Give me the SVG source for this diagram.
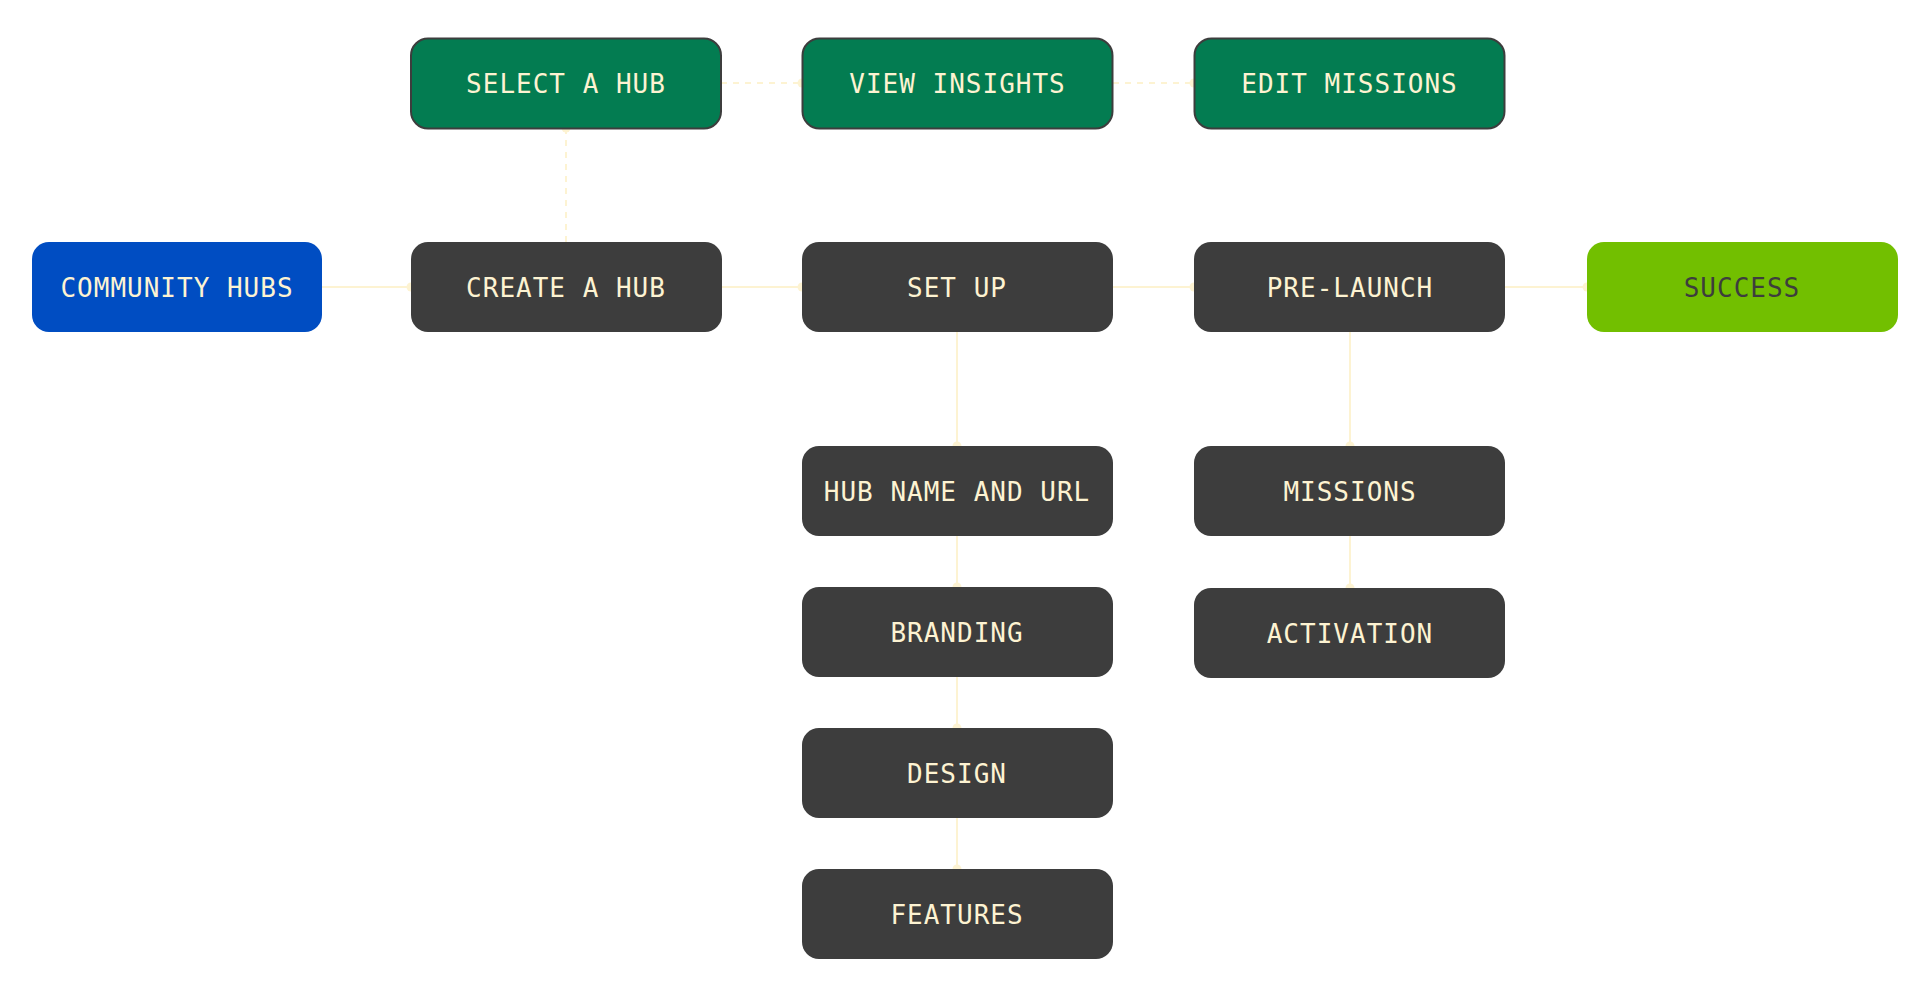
<svg xmlns="http://www.w3.org/2000/svg" width="1930" height="998" viewBox="0 0 1930 998">
<defs>
<marker id="dot" viewBox="-5 -5 10 10" refX="0" refY="0" markerWidth="10" markerHeight="10" markerUnits="userSpaceOnUse">
<circle cx="0" cy="0" r="4.5" fill="#fdf3d2"/>
</marker>
<style>
.c{stroke:#fdf3d2;stroke-width:2;fill:none;marker-end:url(#dot)}
.d{stroke-dasharray:6 6}
.n{fill:#3d3d3d}
.g{fill:#037c51;stroke:#3d3d3d;stroke-width:2}
.b{fill:#004dc2}
.s{fill:#72bf00}
text{font-family:"DejaVu Sans Mono","Liberation Mono",monospace;font-size:26px;letter-spacing:1px;fill:#fdf3d2;text-anchor:middle}
.ts{fill:#3d3d3d}
</style>
</defs>
<rect width="1930" height="998" fill="#ffffff"/>
<g id="connectors">
<line class="c d" x1="721" y1="83" x2="802" y2="83"/>
<line class="c d" x1="1113" y1="83" x2="1194" y2="83"/>
<line class="c d" x1="566" y1="242" x2="566" y2="128"/>
<line class="c" x1="322" y1="287" x2="411" y2="287"/>
<line class="c" x1="721" y1="287" x2="802" y2="287"/>
<line class="c" x1="1113" y1="287" x2="1194" y2="287"/>
<line class="c" x1="1505" y1="287" x2="1587" y2="287"/>
<line class="c" x1="957" y1="332" x2="957" y2="446"/>
<line class="c" x1="957" y1="536" x2="957" y2="587"/>
<line class="c" x1="957" y1="677" x2="957" y2="728"/>
<line class="c" x1="957" y1="818" x2="957" y2="869"/>
<line class="c" x1="1350" y1="332" x2="1350" y2="446"/>
<line class="c" x1="1350" y1="536" x2="1350" y2="588"/>
</g>
<g id="select-hub"><rect class="g" x="411" y="38.5" width="310" height="90" rx="17"/><text x="566" y="93">SELECT A HUB</text></g>
<g id="view-insights"><rect class="g" x="802.5" y="38.5" width="310" height="90" rx="17"/><text x="957.5" y="93">VIEW INSIGHTS</text></g>
<g id="edit-missions"><rect class="g" x="1194.5" y="38.5" width="310" height="90" rx="17"/><text x="1349.5" y="93">EDIT MISSIONS</text></g>
<g id="community-hubs"><rect class="b" x="32" y="242" width="290" height="90" rx="17"/><text x="177" y="297">COMMUNITY HUBS</text></g>
<g id="create-hub"><rect class="n" x="411" y="242" width="311" height="90" rx="17"/><text x="566" y="297">CREATE A HUB</text></g>
<g id="set-up"><rect class="n" x="802" y="242" width="311" height="90" rx="17"/><text x="957" y="297">SET UP</text></g>
<g id="pre-launch"><rect class="n" x="1194" y="242" width="311" height="90" rx="17"/><text x="1350" y="297">PRE-LAUNCH</text></g>
<g id="success"><rect class="s" x="1587" y="242" width="311" height="90" rx="17"/><text class="ts" x="1742" y="297">SUCCESS</text></g>
<g id="hub-name"><rect class="n" x="802" y="446" width="311" height="90" rx="17"/><text x="957" y="501">HUB NAME AND URL</text></g>
<g id="branding"><rect class="n" x="802" y="587" width="311" height="90" rx="17"/><text x="957" y="642">BRANDING</text></g>
<g id="design"><rect class="n" x="802" y="728" width="311" height="90" rx="17"/><text x="957" y="783">DESIGN</text></g>
<g id="features"><rect class="n" x="802" y="869" width="311" height="90" rx="17"/><text x="957" y="924">FEATURES</text></g>
<g id="missions"><rect class="n" x="1194" y="446" width="311" height="90" rx="17"/><text x="1350" y="501">MISSIONS</text></g>
<g id="activation"><rect class="n" x="1194" y="588" width="311" height="90" rx="17"/><text x="1350" y="643">ACTIVATION</text></g>
</svg>
